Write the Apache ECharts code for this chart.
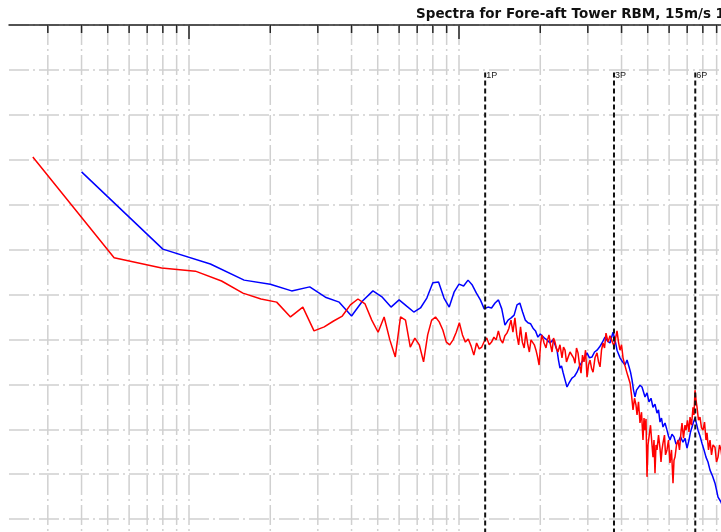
<!DOCTYPE html>
<html>
<head>
<meta charset="utf-8">
<script src="https://cdn.jsdelivr.net/npm/echarts@6/dist/echarts.min.js"></script>
<style>
  html, body { margin: 0; padding: 0; background: #ffffff; }
  #chart { width: 721px; height: 532px; }
</style>
</head>
<body>
<div id="chart"></div>
<script>
// Spectrum of fore-aft tower root bending moment: frequency (log) vs level (dB)
const titleText = 'Spectra for Fore-aft Tower RBM, 15m/s 1';

// Log-axis grid / tick positions
const minorTickValues = [0.03, 0.04, 0.05, 0.06, 0.07, 0.08, 0.09,
                         0.2, 0.3, 0.4, 0.5, 0.6, 0.7, 0.8, 0.9,
                         2, 3, 4, 5, 6, 7, 8, 9];
const majorTickValues = [0.1, 1];

// Rotor harmonics
const harmonicFreqs = [1.25, 3.75, 7.5];
const harmonicLabels = ['1P', '3P', '6P'];
const harmonicTop = 99.4;

// Blue spectrum [frequency, level]
const blueSpectrum = [
  [0.04, 77.3], [0.08, 60.1], [0.12, 56.8], [0.16, 53.2], [0.2, 52.3], [0.24, 50.8],
  [0.28, 51.7], [0.32, 49.4], [0.36, 48.3], [0.4, 45.2], [0.44, 48.6], [0.48, 50.8],
  [0.52, 49.4], [0.56, 47.2], [0.6, 48.8], [0.64, 47.4], [0.68, 46.1], [0.72, 47.0],
  [0.76, 49.2], [0.8, 52.6], [0.84, 52.8], [0.88, 49.2], [0.92, 47.2], [0.96, 50.6],
  [1.0, 52.3], [1.04, 51.9], [1.08, 53.2], [1.12, 52.1], [1.16, 50.3], [1.2, 48.8],
  [1.24, 46.8], [1.28, 47.2], [1.32, 47.0], [1.36, 48.1], [1.4, 48.8], [1.44, 46.8],
  [1.48, 43.2], [1.52, 44.3], [1.56, 44.8], [1.6, 45.4], [1.64, 47.7], [1.68, 48.1],
  [1.72, 46.1], [1.76, 44.3], [1.8, 43.7], [1.84, 43.5], [1.88, 42.5], [1.92, 41.9],
  [1.96, 40.5], [2.0, 41.2], [2.073, 40.3], [2.118, 39.9], [2.173, 39.2], [2.229, 39.9],
  [2.268, 38.8], [2.307, 37.6], [2.336, 35.4], [2.366, 33.6], [2.397, 34.1], [2.428, 32.7],
  [2.47, 31.0], [2.512, 29.4], [2.556, 30.3], [2.621, 31.4], [2.678, 31.8], [2.735, 32.7],
  [2.795, 34.1], [2.855, 35.0], [2.917, 35.9], [2.98, 37.0], [3.043, 35.9], [3.11, 36.1],
  [3.177, 37.2], [3.245, 37.6], [3.314, 38.3], [3.386, 39.2], [3.473, 40.5], [3.548, 39.6],
  [3.625, 39.2], [3.719, 41.6], [3.783, 39.9], [3.848, 37.6], [3.948, 35.9], [4.033, 35.0],
  [4.12, 34.3], [4.191, 35.4], [4.263, 33.9], [4.318, 32.7], [4.373, 31.0], [4.43, 28.7],
  [4.487, 27.2], [4.545, 28.7], [4.603, 28.3], [4.681, 29.8], [4.762, 29.4], [4.824, 28.3],
  [4.886, 27.2], [4.97, 28.1], [5.055, 26.1], [5.142, 26.9], [5.23, 24.9], [5.32, 25.6],
  [5.412, 23.6], [5.482, 24.3], [5.552, 21.6], [5.623, 22.5], [5.695, 20.5], [5.794, 21.4],
  [5.893, 19.8], [5.969, 18.5], [6.046, 17.6], [6.15, 18.9], [6.256, 18.3], [6.363, 16.7],
  [6.474, 17.1], [6.613, 18.3], [6.755, 17.1], [6.871, 18.0], [6.99, 15.8], [7.11, 17.6],
  [7.202, 19.4], [7.295, 20.5], [7.389, 21.6], [7.484, 22.5], [7.581, 21.2], [7.679, 19.8],
  [7.808, 18.5], [7.943, 16.9], [8.08, 15.4], [8.218, 13.8], [8.36, 12.7], [8.505, 10.9],
  [8.689, 9.6], [8.874, 8.0], [8.989, 6.5], [9.106, 4.9], [9.222, 5.3], [9.341, 3.8],
  [9.583, 2.0]
];

// Red spectrum [frequency, level]
const redSpectrum = [
  [0.0264, 80.6], [0.0528, 58.2], [0.0792, 55.9], [0.1056, 55.2], [0.132, 53.0], [0.1584, 50.3],
  [0.1848, 49.0], [0.2112, 48.3], [0.2376, 45.0], [0.264, 47.2], [0.2904, 41.9], [0.3168, 42.8],
  [0.3432, 44.1], [0.3696, 45.2], [0.396, 47.7], [0.4224, 49.0], [0.4488, 47.9], [0.4752, 44.3],
  [0.5016, 41.6], [0.528, 45.0], [0.5544, 39.9], [0.5808, 36.1], [0.6072, 45.0], [0.6336, 44.3],
  [0.66, 38.3], [0.6864, 40.3], [0.7128, 38.8], [0.7392, 35.0], [0.7656, 41.0], [0.792, 44.3],
  [0.8184, 45.0], [0.8448, 43.9], [0.8712, 42.1], [0.8976, 39.4], [0.924, 38.8], [0.9504, 39.9],
  [0.9768, 41.6], [1.003, 43.7], [1.03, 41.0], [1.056, 39.4], [1.082, 40.1], [1.109, 38.5],
  [1.135, 36.5], [1.162, 39.2], [1.188, 37.9], [1.214, 38.3], [1.241, 39.6], [1.267, 40.3],
  [1.294, 38.8], [1.32, 39.4], [1.347, 40.5], [1.373, 39.9], [1.399, 41.9], [1.426, 39.9],
  [1.452, 39.2], [1.479, 40.8], [1.505, 41.4], [1.531, 42.5], [1.558, 44.3], [1.584, 41.6],
  [1.611, 44.8], [1.637, 41.0], [1.663, 38.8], [1.69, 42.8], [1.716, 39.4], [1.743, 38.1],
  [1.769, 41.6], [1.796, 39.0], [1.822, 37.2], [1.848, 39.9], [1.875, 40.3], [1.901, 38.8],
  [1.928, 37.6], [1.954, 36.1], [1.98, 34.3], [2.007, 39.2], [2.029, 41.0], [2.065, 39.2],
  [2.1, 38.1], [2.127, 39.9], [2.154, 41.0], [2.182, 38.8], [2.211, 37.2], [2.239, 40.3],
  [2.268, 39.4], [2.297, 37.9], [2.326, 37.2], [2.366, 38.8], [2.407, 35.9], [2.438, 38.3],
  [2.47, 37.6], [2.501, 35.0], [2.533, 35.4], [2.577, 37.2], [2.621, 37.6], [2.656, 35.9],
  [2.69, 34.7], [2.724, 38.1], [2.759, 37.0], [2.795, 34.3], [2.831, 32.5], [2.867, 36.5],
  [2.904, 35.0], [2.942, 37.6], [2.98, 31.6], [3.018, 34.3], [3.057, 35.4], [3.096, 33.6],
  [3.137, 32.7], [3.189, 35.9], [3.245, 37.0], [3.287, 35.0], [3.329, 33.9], [3.371, 37.6],
  [3.415, 39.2], [3.459, 38.1], [3.503, 41.4], [3.564, 39.4], [3.625, 40.8], [3.687, 40.5],
  [3.751, 38.5], [3.783, 38.8], [3.848, 41.9], [3.897, 39.4], [3.948, 37.6], [3.999, 38.8],
  [4.05, 35.9], [4.12, 34.1], [4.191, 32.5], [4.245, 31.4], [4.3, 30.3], [4.355, 27.6],
  [4.411, 24.3], [4.467, 26.9], [4.524, 25.4], [4.564, 23.2], [4.622, 26.1], [4.681, 21.4],
  [4.742, 23.8], [4.802, 17.6], [4.844, 22.5], [4.886, 19.8], [4.928, 22.3], [4.97, 9.4],
  [5.012, 16.5], [5.055, 18.3], [5.12, 20.9], [5.186, 16.5], [5.23, 13.8], [5.275, 17.6],
  [5.32, 10.2], [5.366, 16.5], [5.412, 15.4], [5.482, 18.7], [5.552, 15.8], [5.6, 12.7],
  [5.647, 15.4], [5.695, 16.9], [5.769, 18.7], [5.819, 14.3], [5.893, 15.4], [5.969, 17.6],
  [6.046, 12.5], [6.124, 15.4], [6.203, 8.0], [6.256, 13.1], [6.31, 13.8], [6.391, 16.5],
  [6.474, 17.6], [6.557, 15.4], [6.641, 19.4], [6.698, 21.4], [6.784, 18.0], [6.871, 20.9],
  [6.93, 19.8], [7.019, 22.0], [7.11, 19.4], [7.171, 22.7], [7.264, 20.9], [7.356, 24.9],
  [7.419, 23.2], [7.484, 28.7], [7.548, 26.5], [7.614, 24.9], [7.709, 22.0], [7.808, 22.7],
  [7.909, 20.3], [8.012, 19.8], [8.116, 21.6], [8.218, 17.6], [8.288, 19.2], [8.396, 15.4],
  [8.505, 17.6], [8.615, 14.3], [8.726, 16.5], [8.874, 16.0], [8.989, 12.7], [9.106, 13.8],
  [9.222, 16.5], [9.341, 15.4], [9.502, 12.0], [9.761, 14.3]
];

const Y_MIN = -10, Y_MAX = 110;
const gridColor = '#d0d0d0';
const gridDash = [20, 4, 2, 4];

const chart = echarts.init(document.getElementById('chart'), null, { renderer: 'canvas' });

chart.setOption({
  animation: false,
  backgroundColor: '#ffffff',
  title: {
    text: titleText,
    left: 416,
    top: 7,
    padding: 0,
    textStyle: { fontSize: 13.5, fontWeight: 'bold', color: '#111111', fontFamily: 'DejaVu Sans, sans-serif' }
  },
  // plot box runs past the right and bottom edges of the page
  grid: { left: 9, top: 25, width: 720, height: 539, outerBoundsMode: 'none', containLabel: false },
  xAxis: {
    type: 'log',
    logBase: 10,
    min: 0.021544,
    max: 10,
    position: 'top',
    axisLine: { show: true, onZero: false, lineStyle: { color: '#262626', width: 1.5 } },
    axisTick: { show: false },
    axisLabel: { show: false },
    splitLine: { show: false },
    minorTick: { show: false }
  },
  yAxis: {
    type: 'value',
    min: Y_MIN,
    max: Y_MAX,
    interval: 10,
    axisLine: { show: false },
    axisTick: { show: false },
    axisLabel: { show: false },
    splitLine: { show: true, lineStyle: { color: gridColor, width: 1.5, type: gridDash } }
  },
  series: [
    {
      // vertical grid lines at 1..9 x decade, plus inward ticks on the top axis
      name: 'xGrid',
      type: 'custom',
      z: 1,
      silent: true,
      data: minorTickValues.concat(majorTickValues).map(v => [v, 0]),
      encode: { x: 0, y: 1 },
      renderItem: function (params, api) {
        const v = api.value(0);
        const top = api.coord([v, Y_MAX]);
        const bot = api.coord([v, Y_MIN]);
        const len = majorTickValues.indexOf(v) >= 0 ? 14 : 8;
        return {
          type: 'group',
          children: [
            { type: 'line', shape: { x1: top[0], y1: top[1], x2: bot[0], y2: bot[1] },
              style: { stroke: gridColor, lineWidth: 1.5, lineDash: gridDash } },
            { type: 'line', shape: { x1: top[0], y1: top[1], x2: top[0], y2: top[1] + len },
              style: { stroke: '#262626', lineWidth: 1.5 } }
          ]
        };
      }
    },
    {
      name: 'blue',
      type: 'line',
      z: 3,
      data: blueSpectrum,
      showSymbol: false,
      symbol: 'none',
      lineStyle: { color: '#0000ff', width: 1.5 },
      silent: true
    },
    {
      name: 'red',
      type: 'line',
      z: 4,
      data: redSpectrum,
      showSymbol: false,
      symbol: 'none',
      lineStyle: { color: '#ff0000', width: 1.5 },
      silent: true
    },
    {
      // rotor harmonic markers
      name: 'harmonics',
      type: 'custom',
      z: 5,
      silent: true,
      data: harmonicFreqs.map(f => [f, harmonicTop]),
      encode: { x: 0, y: 1 },
      renderItem: function (params, api) {
        const f = api.value(0);
        const top = api.coord([f, api.value(1)]);
        const bot = api.coord([f, Y_MIN]);
        return {
          type: 'group',
          children: [
            { type: 'line', shape: { x1: top[0], y1: top[1], x2: bot[0], y2: bot[1] },
              style: { stroke: '#111111', lineWidth: 2, lineDash: [5, 3] } },
            { type: 'text', x: top[0] + 1, y: top[1] + 3,
              style: { text: harmonicLabels[params.dataIndex], fill: '#222222',
                       font: '9px "Liberation Sans", Arial, sans-serif',
                       textAlign: 'left', textVerticalAlign: 'middle' } }
          ]
        };
      }
    }
  ]
});
</script>
</body>
</html>
